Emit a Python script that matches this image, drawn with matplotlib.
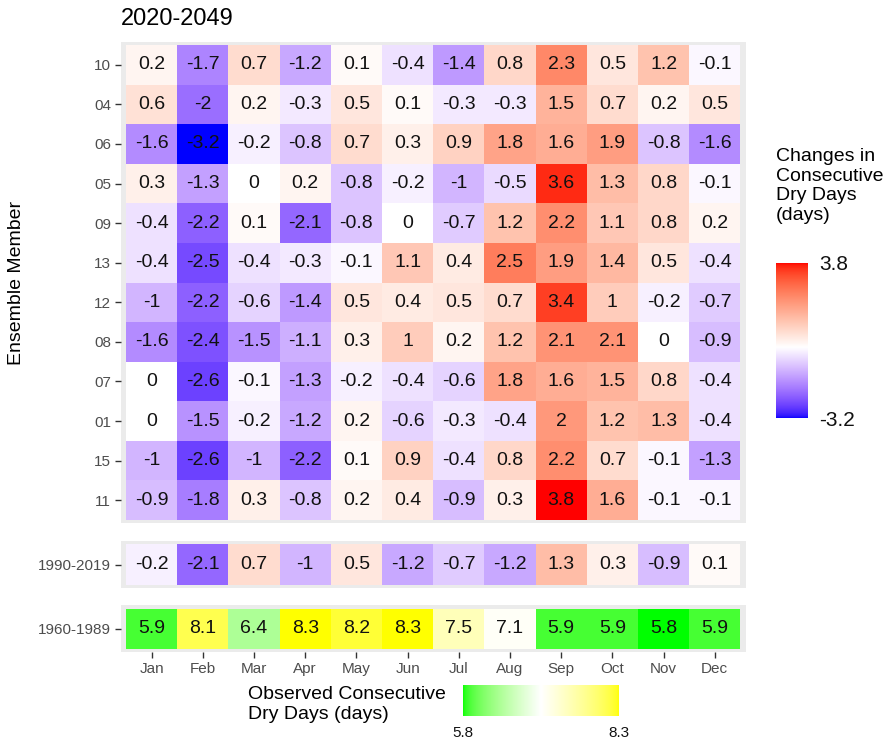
import numpy as np
import matplotlib
matplotlib.use('Agg')
import matplotlib.pyplot as plt
from matplotlib.colors import ListedColormap, Normalize

plt.rcParams['font.family'] = ['Liberation Sans', 'DejaVu Sans']
plt.rcParams['axes.unicode_minus'] = False

months = ['Jan', 'Feb', 'Mar', 'Apr', 'May', 'Jun',
          'Jul', 'Aug', 'Sep', 'Oct', 'Nov', 'Dec']
members = ['10', '04', '06', '05', '09', '13', '12', '08', '07', '01', '15', '11']

# projected change 2020-2049, one row per ensemble member (top to bottom)
changes = [
    [0.2, -1.7, 0.7, -1.2, 0.1, -0.4, -1.4, 0.8, 2.3, 0.5, 1.2, -0.1],
    [0.6, -2.0, 0.2, -0.3, 0.5, 0.1, -0.3, -0.3, 1.5, 0.7, 0.2, 0.5],
    [-1.6, -3.2, -0.2, -0.8, 0.7, 0.3, 0.9, 1.8, 1.6, 1.9, -0.8, -1.6],
    [0.3, -1.3, 0.0, 0.2, -0.8, -0.2, -1.0, -0.5, 3.6, 1.3, 0.8, -0.1],
    [-0.4, -2.2, 0.1, -2.1, -0.8, 0.0, -0.7, 1.2, 2.2, 1.1, 0.8, 0.2],
    [-0.4, -2.5, -0.4, -0.3, -0.1, 1.1, 0.4, 2.5, 1.9, 1.4, 0.5, -0.4],
    [-1.0, -2.2, -0.6, -1.4, 0.5, 0.4, 0.5, 0.7, 3.4, 1.0, -0.2, -0.7],
    [-1.6, -2.4, -1.5, -1.1, 0.3, 1.0, 0.2, 1.2, 2.1, 2.1, 0.0, -0.9],
    [0.0, -2.6, -0.1, -1.3, -0.2, -0.4, -0.6, 1.8, 1.6, 1.5, 0.8, -0.4],
    [0.0, -1.5, -0.2, -1.2, 0.2, -0.6, -0.3, -0.4, 2.0, 1.2, 1.3, -0.4],
    [-1.0, -2.6, -1.0, -2.2, 0.1, 0.9, -0.4, 0.8, 2.2, 0.7, -0.1, -1.3],
    [-0.9, -1.8, 0.3, -0.8, 0.2, 0.4, -0.9, 0.3, 3.8, 1.6, -0.1, -0.1],
]
recent = [-0.2, -2.1, 0.7, -1.0, 0.5, -1.2, -0.7, -1.2, 1.3, 0.3, -0.9, 0.1]
observed = [5.9, 8.1, 6.4, 8.3, 8.2, 8.3, 7.5, 7.1, 5.9, 5.9, 5.8, 5.9]

chg_lim = (-3.2, 3.8)
obs_lim = (5.8, 8.3)

WHITE_REF = np.array([0.95047, 1.0, 1.08883])
M = np.array([[0.4124, 0.3576, 0.1805],
              [0.2126, 0.7152, 0.0722],
              [0.0193, 0.1192, 0.9505]])
MINV = np.linalg.inv(M)


def to_lab(rgb):
    c = np.asarray(rgb, float)
    lin = np.where(c <= 0.04045, c / 12.92, ((c + 0.055) / 1.055) ** 2.4)
    t = (M @ lin) / WHITE_REF
    d = 6 / 29
    f = np.where(t > d ** 3, np.cbrt(t), t / (3 * d ** 2) + 4 / 29)
    return np.array([116 * f[1] - 16, 500 * (f[0] - f[1]), 200 * (f[1] - f[2])])


def from_lab(lab):
    L, a, b = lab
    fy = (L + 16) / 116
    f = np.array([fy + a / 500, fy, fy - b / 200])
    d = 6 / 29
    t = np.where(f > d, f ** 3, 3 * d ** 2 * (f - 4 / 29))
    lin = np.clip(MINV @ (t * WHITE_REF[:, None]), 0, 1)
    s = np.where(lin <= 0.0031308, 12.92 * lin, 1.055 * lin ** (1 / 2.4) - 0.055)
    return np.clip(s, 0, 1).T


def lab_cmap(colors, positions, n=512):
    labs = np.array([to_lab(c) for c in colors])
    t = np.linspace(0, 1, n)
    lab = np.array([np.interp(t, positions, labs[:, j]) for j in range(3)])
    return ListedColormap(from_lab(lab))


chg_cmap = lab_cmap([(0, 0, 1), (1, 1, 1), (1, 0, 0)],
                    [0, -chg_lim[0] / (chg_lim[1] - chg_lim[0]), 1])
obs_cmap = lab_cmap([(0, 1, 0), (1, 1, 1), (1, 1, 0)], [0, 0.5, 1])
chg_norm = Normalize(*chg_lim)
obs_norm = Normalize(*obs_lim)

W, H = 888, 756
fig = plt.figure(figsize=(W / 100, H / 100), dpi=100)


def px_axes(x0, y0, x1, y1):
    return fig.add_axes([x0 / W, 1 - y1 / H, (x1 - x0) / W, (y1 - y0) / H])


def heat(ax, data, labels, cmap, norm, ey):
    data = np.asarray(data, float)
    nr = data.shape[0]
    ax.pcolormesh(np.arange(13) - 0.5, np.arange(nr + 1) - 0.5, data,
                  cmap=cmap, norm=norm, shading='flat')
    for i in range(nr):
        for j in range(12):
            ax.text(j, i, f'{data[i, j]:g}', ha='center', va='center',
                    fontsize=14, color='#111111')
    ax.set_facecolor('#EBEBEB')
    ax.set_xlim(-0.5 - 0.104, 11.5 + 0.104)
    ax.set_ylim(nr - 0.5 + ey, -0.5 - ey)
    ax.set_yticks(range(nr))
    ax.set_yticklabels(labels)
    ax.set_xticks(range(12))
    for s in ax.spines.values():
        s.set_visible(False)
    ax.tick_params(length=4, width=1, color='#333333', labelcolor='#4D4D4D',
                   labelsize=11, pad=3)


ax1 = px_axes(120.7, 41.7, 745.7, 523.3)
heat(ax1, changes, members, chg_cmap, chg_norm, 0.085)
ax1.set_xticklabels([])
ax1.tick_params(axis='x', length=0)
ax1.set_ylabel('Ensemble Member', fontsize=14)
ax1.yaxis.set_label_coords(-0.153, 0.5)
ax1.set_title('2020-2049', loc='left', fontsize=17, pad=12, x=0.0)

ax2 = px_axes(120.7, 540.7, 745.7, 588.3)
heat(ax2, [recent], ['1990-2019'], chg_cmap, chg_norm, 0.09)
ax2.set_xticklabels([])
ax2.tick_params(axis='x', length=0)

ax3 = px_axes(120.7, 605.0, 745.7, 652.3)
heat(ax3, [observed], ['1960-1989'], obs_cmap, obs_norm, 0.09)
ax3.set_xticklabels(months)

# legend for projected changes
cax1 = px_axes(776, 262.7, 807.7, 418.3)
sm1 = plt.cm.ScalarMappable(norm=chg_norm, cmap=chg_cmap)
cb1 = fig.colorbar(sm1, cax=cax1, orientation='vertical')
cb1.set_ticks(list(chg_lim))
cb1.set_ticklabels(['-3.2', '3.8'])
cb1.outline.set_visible(False)
cax1.tick_params(length=0, labelsize=15, pad=8, labelcolor='#111111')
fig.text(776 / W, 1 - 148 / H, 'Changes in\nConsecutive\nDry Days\n(days)',
         ha='left', va='top', fontsize=14, linespacing=1.2)

# legend for observed values
cax2 = px_axes(462.7, 685, 619.3, 716)
sm2 = plt.cm.ScalarMappable(norm=obs_norm, cmap=obs_cmap)
cb2 = fig.colorbar(sm2, cax=cax2, orientation='horizontal')
cb2.set_ticks(list(obs_lim))
cb2.set_ticklabels(['5.8', '8.3'])
cb2.outline.set_visible(False)
cax2.tick_params(length=0, labelsize=11, pad=7, labelcolor='#111111')
fig.text(248 / W, 1 - 686 / H, 'Observed Consecutive\nDry Days (days)',
         ha='left', va='top', fontsize=14, linespacing=1.2)

fig.savefig('out.png', dpi=100)
